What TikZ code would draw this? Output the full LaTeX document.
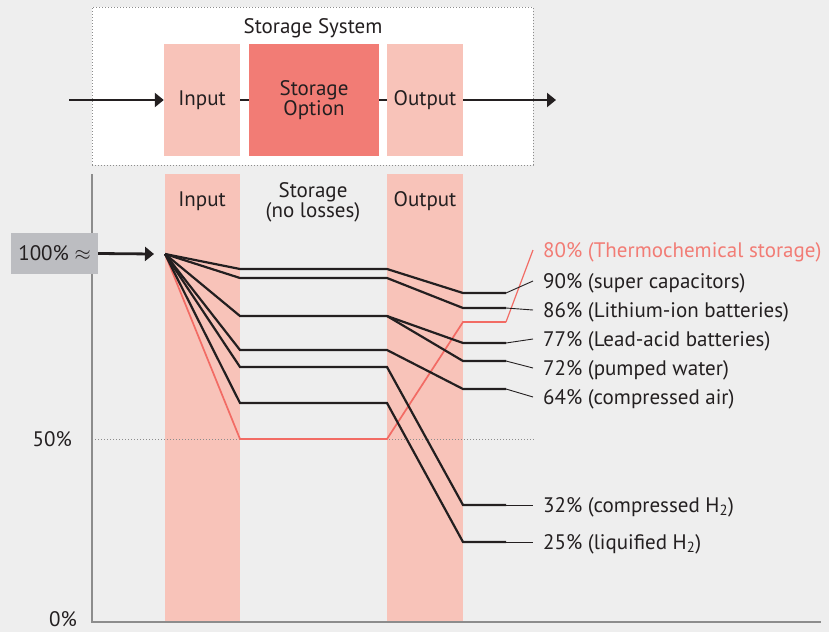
\documentclass[tikz,border=0pt]{standalone}
\usepackage{fontspec}
\setmainfont{PT Sans}
\usetikzlibrary{arrows.meta}
\definecolor{bg}{HTML}{EEEEEE}
\definecolor{pinkc}{HTML}{F8C3B9}
\definecolor{storc}{HTML}{F27C75}
\definecolor{redl}{HTML}{F26B64}
\definecolor{dark}{HTML}{231F20}
\definecolor{greybox}{HTML}{BCBDC1}
\definecolor{axisc}{HTML}{8C8C8C}
\tikzset{
  txt/.style={font=\fontsize{21}{23}\selectfont, text=dark},
  pinkbox/.style={fill=pinkc, inner sep=0pt, minimum width=76pt, minimum height=112pt, txt},
  storbox/.style={fill=storc, inner sep=0pt, minimum width=130pt, minimum height=112pt, txt, align=center},
  col/.style={fill=pinkc, inner sep=0pt, minimum height=448pt},
  arr/.style={draw=dark, line width=2.6pt, -{Triangle[length=9pt,width=14pt]}},
  series/.style={draw=dark, line width=2.2pt, line join=miter},
  redseries/.style={draw=redl, line width=1.7pt},
  conn/.style={draw=dark, line width=0.9pt},
  redconn/.style={draw=redl, line width=1.2pt},
  lab/.style={txt, anchor=west, inner xsep=10pt, inner ysep=0pt, text height=15pt, text depth=0pt},
}
\begin{document}
\begin{tikzpicture}[x=1pt,y=-1pt]
\fill[bg] (0,0) rectangle (829,632);
\useasboundingbox (0,0) rectangle (829,632);
% top system box
\node[draw=axisc, dotted, line width=1pt, fill=white, minimum width=441pt, minimum height=158pt, inner sep=0pt] (sys) at (312.5,86) {};
\node[txt] (systitle) at (313,28) {Storage System};
\node[pinkbox] (in) at (202,100) {Input};
\node[storbox] (st) at (314,100) {Storage\\[-3pt]Option};
\node[pinkbox] (out) at (425,100) {Output};
\coordinate (sysin) at (69,100);
\coordinate (sysout) at (556,100);
\draw[arr] (sysin) -- (in.west);
\draw[draw=dark, line width=2.6pt] (in.east) -- (st.west);
\draw[draw=dark, line width=2.6pt] (st.east) -- (out.west);
\draw[arr] (out.east) -- (sysout);
% chart columns
\node[col, minimum width=75pt] (cin) at (202.5,398) {};
\node[col, minimum width=76pt] (cout) at (425,398) {};
\node[txt] (hin) at (202,201) {Input};
\node[txt, align=center] (hst) at (313,202) {Storage\\[-3pt](no losses)};
\node[txt] (hout) at (425,201) {Output};
% axes
\coordinate (axtop) at (92,174);
\coordinate (axo) at (92,622);
\coordinate (axend) at (821,622);
\draw[axisc, line width=1.3pt] (axtop) -- (axo) -- (axend);
\coordinate (h50a) at (92,439);
\coordinate (h50b) at (534,439);
\draw[axisc, dotted, line width=1pt] (h50a) -- (h50b);
\node[txt, anchor=east, inner sep=0pt] (y50) at (72,439) {50\%};
\node[txt, anchor=east, inner sep=0pt] (y0) at (77,619) {0\%};
% 100% box
\node[fill=greybox, minimum width=87pt, minimum height=41pt, inner sep=0pt, txt] (g100) at (54.5,253.5) {100\% $\approx$};
\coordinate (o) at (165,254);
\coordinate (oarr) at (154,254);
\draw[arr, line width=2.8pt] (g100.east) -- (oarr);
% labels
\node[lab, text=storc] (l80) at (533,250) {80\% (Thermochemical storage)};
\node[lab] (l90) at (533,281) {90\% (super capacitors)};
\node[lab] (l86) at (533,310) {86\% (Lithium-ion batteries)};
\node[lab] (l77) at (533,339) {77\% (Lead-acid batteries)};
\node[lab] (l72) at (533,368) {72\% (pumped water)};
\node[lab] (l64) at (533,397) {64\% (compressed air)};
\node[lab] (l32) at (533,505) {32\% (compressed H\textsubscript{2})};
\node[lab] (l25) at (533,542) {25\% (liquified H\textsubscript{2})};
% series coordinates
\coordinate (a1) at (240,269); \coordinate (a2) at (387,269); \coordinate (a3) at (463,293); \coordinate (a4) at (506,293);
\coordinate (b1) at (240,278); \coordinate (b2) at (387,278); \coordinate (b3) at (463,308); \coordinate (b4) at (506,308);
\coordinate (c1) at (240,316); \coordinate (c2) at (387,316); \coordinate (c3) at (463,343); \coordinate (c4) at (506,343);
\coordinate (c5) at (463,361); \coordinate (c6) at (506,361);
\coordinate (d1) at (240,350); \coordinate (d2) at (387,350); \coordinate (d3) at (463,389); \coordinate (d4) at (506,389);
\coordinate (e1) at (240,367); \coordinate (e2) at (387,367); \coordinate (e3) at (463,505); \coordinate (e4) at (506,505);
\coordinate (f1) at (240,403); \coordinate (f2) at (387,403); \coordinate (f3) at (463,542); \coordinate (f4) at (506,542);
\coordinate (r1) at (240,439); \coordinate (r2) at (387,439); \coordinate (r3) at (463,322); \coordinate (r4) at (506,322);
% red series
\draw[redseries] (o) -- (r1) -- (r2) -- (r3) -- (r4);
\draw[redconn] (r4) -- (l80.west);
% black series
\draw[series] (o) -- (a1) -- (a2) -- (a3) -- (a4);
\draw[series] (o) -- (b1) -- (b2) -- (b3) -- (b4);
\draw[series] (o) -- (c1) -- (c2) -- (c3) -- (c4);
\draw[series] (c2) -- (c5) -- (c6);
\draw[series] (o) -- (d1) -- (d2) -- (d3) -- (d4);
\draw[series] (o) -- (e1) -- (e2) -- (e3) -- (e4);
\draw[series] (o) -- (f1) -- (f2) -- (f3) -- (f4);
\draw[conn] (a4) -- (l90.west);
\draw[conn] (b4) -- (l86.west);
\draw[conn] (c4) -- (l77.west);
\draw[conn] (c6) -- (l72.west);
\draw[conn] (d4) -- (l64.west);
\draw[conn] (e4) -- (l32.west);
\draw[conn] (f4) -- (l25.west);
\end{tikzpicture}
\end{document}
